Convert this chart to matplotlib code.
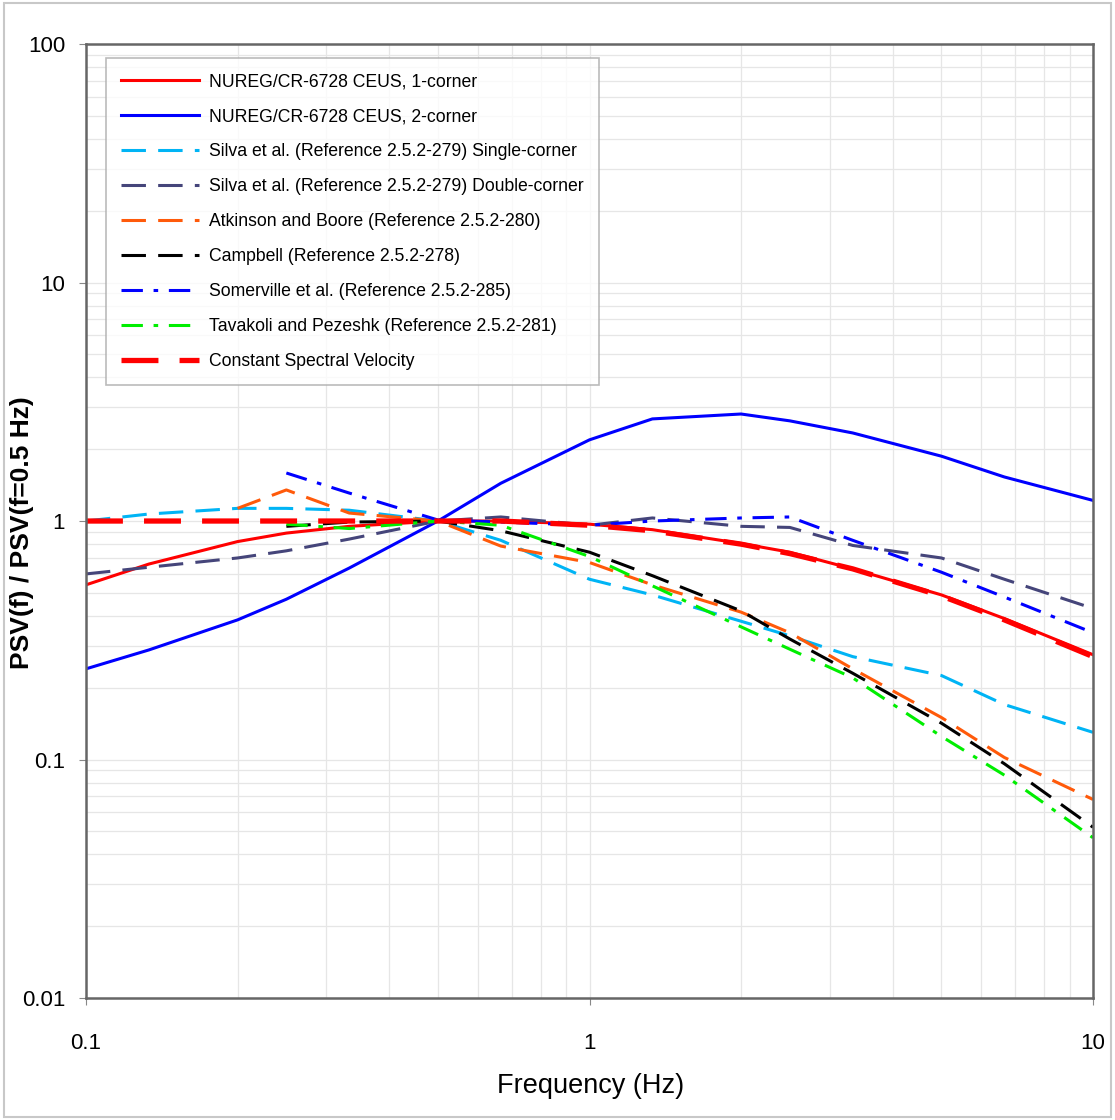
import matplotlib
matplotlib.use("Agg")
import matplotlib.pyplot as plt
from matplotlib.patches import Rectangle

plt.rcParams['font.family'] = ['Liberation Sans', 'DejaVu Sans']
narrow = ['Liberation Sans Narrow', 'Liberation Sans', 'DejaVu Sans']

# frequencies (Hz)
freq = [0.1, 0.1333, 0.2, 0.25, 0.3333, 0.5, 0.6667, 1.0, 1.333, 2.0, 2.5, 3.333, 5.0, 6.667, 10.0]
freq_short = [0.25, 0.3333, 0.5, 0.6667, 1.0, 1.333, 2.0, 2.5, 3.333, 5.0, 6.667, 10.0]
freq_ab = [0.2, 0.25, 0.3333, 0.5, 0.6667, 1.0, 1.333, 2.0, 2.5, 3.333, 5.0, 6.667, 10.0]

nureg_1c = [0.54, 0.66, 0.82, 0.89, 0.95, 1.0, 1.0, 0.97, 0.92, 0.805, 0.74, 0.63, 0.49, 0.39, 0.275]
nureg_2c = [0.24, 0.288, 0.385, 0.47, 0.635, 1.0, 1.44, 2.19, 2.68, 2.81, 2.63, 2.34, 1.87, 1.53, 1.22]
silva_1c = [1.0, 1.07, 1.13, 1.13, 1.11, 1.0, 0.83, 0.57, 0.49, 0.38, 0.33, 0.27, 0.225, 0.17, 0.13]
silva_2c = [0.60, 0.64, 0.70, 0.75, 0.84, 1.0, 1.04, 0.96, 1.03, 0.95, 0.94, 0.79, 0.70, 0.57, 0.43]
atkinson = [1.13, 1.35, 1.08, 1.0, 0.785, 0.67, 0.54, 0.415, 0.34, 0.24, 0.15, 0.102, 0.068]
campbell = [0.95, 0.99, 1.0, 0.91, 0.74, 0.59, 0.42, 0.32, 0.23, 0.142, 0.096, 0.052]
somerville = [1.59, 1.31, 1.01, 0.99, 0.96, 1.0, 1.03, 1.04, 0.83, 0.61, 0.48, 0.34]
tavakoli = [0.97, 0.93, 1.0, 0.96, 0.71, 0.535, 0.36, 0.29, 0.22, 0.125, 0.086, 0.047]
const_sv = [1.0, 1.0, 1.0, 1.0, 1.0, 1.0, 1.0, 0.96, 0.91, 0.80, 0.73, 0.63, 0.485, 0.385, 0.27]

fig = plt.figure(figsize=(11.15, 11.2), dpi=100)
fig.patches.append(Rectangle((0.004, 0.003), 0.992, 0.994, transform=fig.transFigure,
                             fill=False, edgecolor='#c8c8c8', linewidth=1.5))
ax = fig.add_axes([0.0771, 0.1089, 0.9032, 0.8518])

lw = 2.2
ax.plot(freq, nureg_1c, color='#ff0000', lw=lw, label='NUREG/CR-6728 CEUS, 1-corner')
ax.plot(freq, nureg_2c, color='#0000ff', lw=lw, label='NUREG/CR-6728 CEUS, 2-corner')
ax.plot(freq, silva_1c, color='#00b4f5', lw=lw, dashes=(8, 4),
        label='Silva et al. (Reference 2.5.2-279) Single-corner')
ax.plot(freq, silva_2c, color='#45457a', lw=lw, dashes=(8, 4),
        label='Silva et al. (Reference 2.5.2-279) Double-corner')
ax.plot(freq_ab, atkinson, color='#ff5a0a', lw=lw, dashes=(8, 4),
        label='Atkinson and Boore (Reference 2.5.2-280)')
ax.plot(freq_short, campbell, color='black', lw=lw, dashes=(8, 4),
        label='Campbell (Reference 2.5.2-278)')
ax.plot(freq_short, somerville, color='#0000ff', lw=lw, dashes=(7, 3.5, 1.5, 3.5),
        label='Somerville et al. (Reference 2.5.2-285)')
ax.plot(freq_short, tavakoli, color='#00ee00', lw=lw, dashes=(7, 3.5, 1.5, 3.5),
        label='Tavakoli and Pezeshk (Reference 2.5.2-281)')
ax.plot(freq, const_sv, color='#ff0000', lw=3.8, dashes=(7, 4),
        label='Constant Spectral Velocity')

ax.set_xscale('log')
ax.set_yscale('log')
ax.set_xlim(0.1, 10)
ax.set_ylim(0.01, 100)
ax.set_xticks([0.1, 1, 10])
ax.set_xticklabels(['0.1', '1', '10'])
ax.set_yticks([0.01, 0.1, 1, 10, 100])
ax.set_yticklabels(['0.01', '0.1', '1', '10', '100'])
ax.tick_params(which='major', length=5, color='#888888')
ax.tick_params(axis='x', labelsize=16, pad=20)
ax.tick_params(axis='y', labelsize=16, pad=10)
ax.tick_params(which='minor', length=0)
for lab in ax.get_xticklabels():
    lab.set_family(narrow)
ax.grid(True, which='both', color='#e6e6e6', lw=0.9)
ax.set_axisbelow(True)
for s in ax.spines.values():
    s.set_color('#666666')
    s.set_linewidth(1.8)

fig.text(591 / 1115, 1 - 1086 / 1120, 'Frequency (Hz)', fontsize=19.5,
         family=narrow, ha='center', va='center')
fig.text(22 / 1115, 1 - 533 / 1120, 'PSV(f) / PSV(f=0.5 Hz)', fontsize=19,
         fontweight='bold', family=narrow, rotation=90, ha='center', va='center')

leg = ax.legend(loc='upper left', bbox_to_anchor=(0.02, 0.985), fontsize=12.7,
                handlelength=4.4, handletextpad=0.6, labelspacing=1.02,
                borderpad=0.85, frameon=True, fancybox=False, borderaxespad=0)
leg.get_frame().set_edgecolor('#aaaaaa')
leg.get_frame().set_linewidth(1.2)

fig.savefig('out.png', dpi=100)
